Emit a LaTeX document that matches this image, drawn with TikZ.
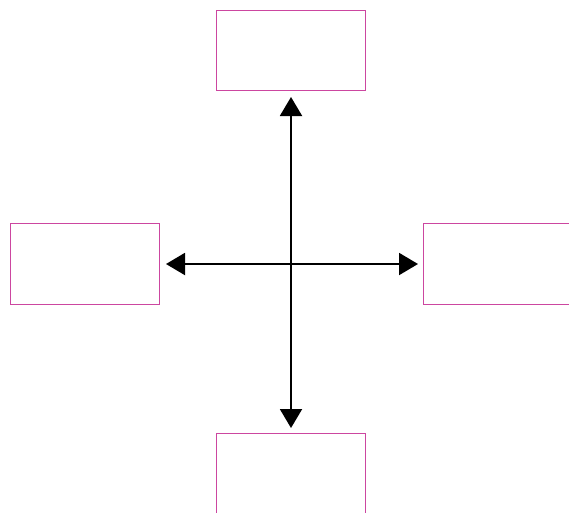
\documentclass[tikz,border=0pt]{standalone}
\usetikzlibrary{arrows.meta}
\definecolor{boxpink}{RGB}{204,70,160}
\begin{document}
\begin{tikzpicture}[x=1pt,y=-1pt,
  box/.style={draw=boxpink,line width=1pt,rectangle,minimum width=149pt,minimum height=80pt,inner sep=0pt},
  conn/.style={line width=2pt,{Triangle[length=19pt,width=22pt]}-{Triangle[length=19pt,width=22pt]}}]
\useasboundingbox (0,0) rectangle (569,512);
\node[box] (top) at (291,50.5) {};
\node[box,minimum height=81pt] (left) at (85,264) {};
\node[box,minimum height=81pt] (right) at (498,264) {};
\node[box] (bottom) at (291,473.5) {};
\draw[conn,shorten <=6pt,shorten >=5pt] (top) -- (bottom);
\draw[conn,shorten <=6pt,shorten >=5pt] (left) -- (right);
\end{tikzpicture}
\end{document}
